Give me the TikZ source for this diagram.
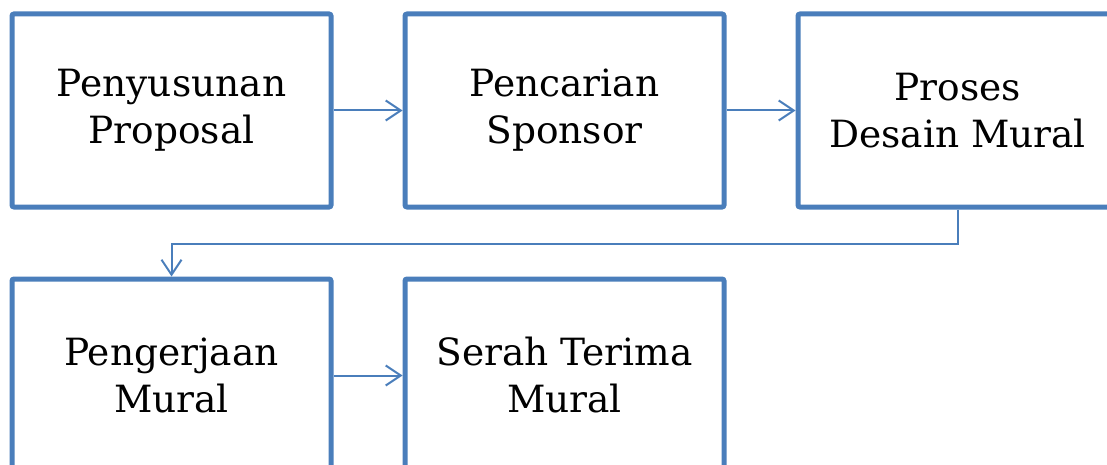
\documentclass[tikz,border=0pt]{standalone}
\usepackage{tikz}
\usepackage{xcolor}
\usepackage{fontspec}
\setmainfont{DejaVu Serif}
\usetikzlibrary{arrows.meta, positioning}

\definecolor{boxblue}{HTML}{4A7EBB}
\tikzset{
	stagebox/.style={draw=boxblue, line width=5pt, rounded corners=2pt, fill=white,
		minimum width=319pt, minimum height=193pt, inner sep=0pt, align=center,
		font=\fontsize{37.5}{47}\selectfont},
	flow/.style={draw=boxblue, line width=2pt, -{Straight Barb[length=15pt, width=20pt, line width=2pt]}}
}

\begin{document}
\begin{tikzpicture}[x=1pt, y=-1pt]
			\useasboundingbox (0, 0) rectangle (1107, 465);
			\clip (0, 0) rectangle (1107, 465);
			\node [stagebox] (proposal) at (171.5, 110.5) {Penyusunan\\Proposal};
			\node [stagebox] (sponsor) at (564.5, 110.5) {Pencarian\\Sponsor};
			\node [stagebox] (desain) at (957.5, 110.5) {Proses\\Desain Mural};
			\node [stagebox] (kerja) at (171.5, 375.5) {Pengerjaan\\Mural};
			\node [stagebox] (serah) at (564.5, 375.5) {Serah Terima\\Mural};
			\draw [flow] (proposal) -- (sponsor);
			\draw [flow] (sponsor) -- (desain);
			\draw [flow] (desain.south) -- ++(0, 34) -| (kerja.north);
			\draw [flow] (kerja) -- (serah);
		\end{tikzpicture}
\end{document}
